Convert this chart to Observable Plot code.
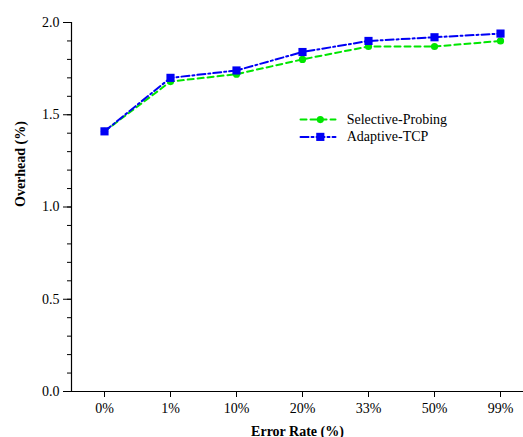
<!DOCTYPE html>
<html><head><meta charset="utf-8">
<script src="https://cdn.jsdelivr.net/npm/d3@7"></script>
<script src="https://cdn.jsdelivr.net/npm/@observablehq/plot@0.6"></script>
<style>body{margin:0;background:#fff} svg text{font-family:"Liberation Serif","Times New Roman",serif !important}</style>
</head><body><div id="chart"></div>
<script>
const categories = ["0%", "1%", "10%", "20%", "33%", "50%", "99%"];
const selectiveProbing = [1.41, 1.68, 1.72, 1.80, 1.87, 1.87, 1.90];
const adaptiveTCP = [1.41, 1.70, 1.74, 1.84, 1.90, 1.92, 1.94];
const seriesNames = ["Selective-Probing", "Adaptive-TCP"];
const majorTicks = [0, 0.5, 1.0, 1.5, 2.0];
const minorTicks = d3.range(0, 21).map(i => i / 10);

const green = "#00e600", blue = "#0000f5";
const font = "Liberation Serif";

const sel = categories.map((c, i) => ({i, c, v: selectiveProbing[i]}));
const ada = categories.map((c, i) => ({i, c, v: adaptiveTCP[i]}));

// legend placement in data units
const legY = [1.474, 1.38];
const legX0 = 2.97, legX1 = 3.5, legXm = 3.27, legXt = 3.67;

const axisStyle = {stroke: "#000", strokeOpacity: 1, fill: "#000", fontFamily: font, fontSize: 14};

const chart = Plot.plot({
  width: 523, height: 437,
  marginLeft: 71, marginRight: 0, marginTop: 22, marginBottom: 46,
  style: {fontFamily: font, fontSize: "14px", color: "#000", background: "#fff"},
  x: {domain: [-0.5, 6.5], range: [71, 533]},
  y: {domain: [0, 2]},
  marks: [
    Plot.axisY({ticks: minorTicks, tickSize: 4, tickFormat: () => "", label: null, ...axisStyle}),
    Plot.axisY({ticks: majorTicks, tickSize: 8, tickPadding: 4, tickFormat: d3.format(".1f"), label: null, ...axisStyle}),
    Plot.axisX({ticks: d3.range(categories.length), tickSize: 6, tickPadding: 6, tickFormat: i => categories[i], label: null, ...axisStyle}),
    Plot.ruleX([-0.5], {stroke: "#000", strokeWidth: 1.2}),
    Plot.ruleY([0], {stroke: "#000", strokeWidth: 1.2}),
    Plot.line(sel, {x: "i", y: "v", stroke: green, strokeWidth: 2, strokeDasharray: "6,4"}),
    Plot.dot(sel, {x: "i", y: "v", r: 3.6, fill: green, symbol: "circle"}),
    Plot.line(ada, {x: "i", y: "v", stroke: blue, strokeWidth: 2, strokeDasharray: "8,3,2,3"}),
    Plot.dot(ada, {x: "i", y: "v", r: 4.6, fill: blue, symbol: "square"}),
    // legend
    Plot.line([{x: legX0, y: legY[0]}, {x: legX1, y: legY[0]}], {x: "x", y: "y", stroke: green, strokeWidth: 2, strokeDasharray: "6,4"}),
    Plot.dot([{x: legXm, y: legY[0]}], {x: "x", y: "y", r: 3.6, fill: green}),
    Plot.line([{x: legX0, y: legY[1]}, {x: legX1, y: legY[1]}], {x: "x", y: "y", stroke: blue, strokeWidth: 2, strokeDasharray: "8,3,2,3"}),
    Plot.dot([{x: legXm, y: legY[1]}], {x: "x", y: "y", r: 4.6, fill: blue, symbol: "square"}),
    Plot.text(seriesNames.map((n, k) => ({n, x: legXt, y: legY[k]})), {x: "x", y: "y", text: "n", textAnchor: "start", fontSize: 14, fill: "#000"}),
    // axis titles
    Plot.text(["Error Rate (%)"], {frameAnchor: "bottom", dy: 44, fontWeight: "bold", fontSize: 14, fill: "#000"}),
    Plot.text(["Overhead (%)"], {frameAnchor: "left", dx: -51, rotate: -90, fontWeight: "bold", fontSize: 14, fill: "#000"})
  ]
});
document.getElementById("chart").appendChild(chart);
</script>
</body></html>
